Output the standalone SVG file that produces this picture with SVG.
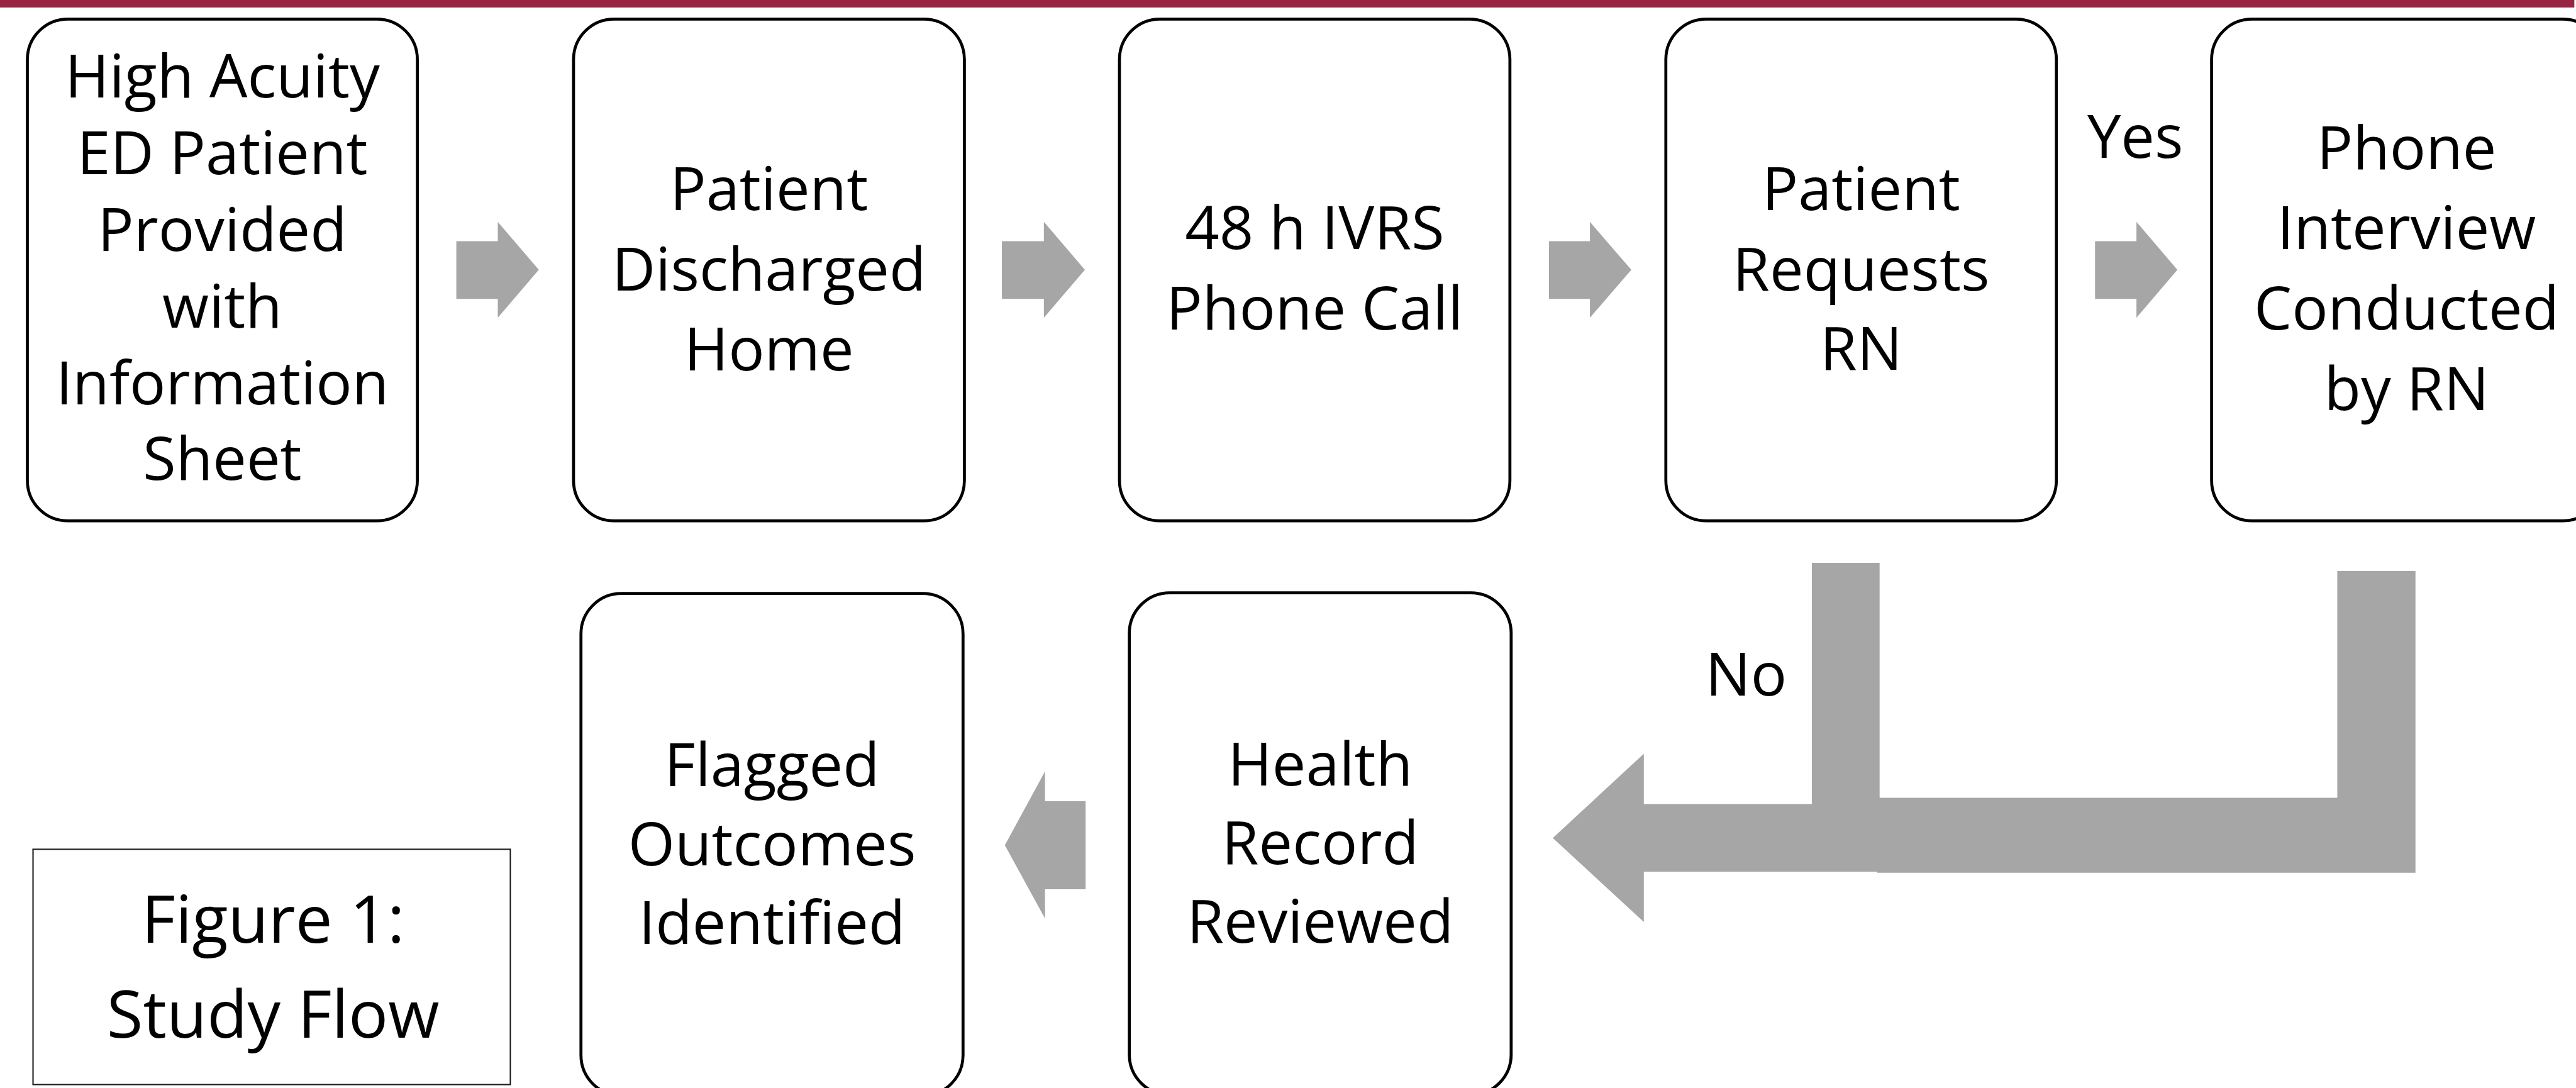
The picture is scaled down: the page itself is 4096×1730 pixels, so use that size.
<svg xmlns="http://www.w3.org/2000/svg" width="4096" height="1730" viewBox="0 0 4096 1730">
<style>
.node{fill:#ffffff;stroke:#000000;stroke-width:5}
.cap{fill:#ffffff;stroke:#1a1a1a;stroke-width:2.2}
.t{font-family:"Open Sans","Noto Sans","Liberation Sans",sans-serif;font-size:101px;fill:#000000;text-anchor:middle}
.tf{font-size:111px}
.arr{fill:#a6a6a6;stroke:none}
</style>
<rect x="0" y="0" width="4096" height="1730" fill="#ffffff"/>
<g transform="scale(0.946)">
<rect id="topbar" x="0" y="0" width="4327" height="12.6" fill="#982441"/>

<g id="connectors">
<polygon class="arr" points="767,405.3 836.7,405.3 836.7,373 905.6,453.5 836.7,534 836.7,502.3 767,502.3"/>
<polygon class="arr" points="1684,405.3 1754.6,405.3 1754.6,373 1823.5,453.5 1754.6,534 1754.6,502.3 1684,502.3"/>
<polygon class="arr" points="2603.6,405.3 2672.4,405.3 2672.4,373 2742,453.5 2672.4,534 2672.4,502.3 2603.6,502.3"/>
<polygon class="arr" points="3521.4,405.3 3591,405.3 3591,373 3659.8,453.5 3591,534 3591,502.3 3521.4,502.3"/>
<polygon class="arr" points="1824.7,1346.8 1756.5,1346.8 1756.5,1296.5 1689,1420.8 1756.5,1543.9 1756.5,1494.8 1824.7,1494.8"/>
<polygon class="arr" points="3928.6,959.8 4060,959.8 4060,1467 3155.4,1467 3155.4,1340.9 3928.6,1340.9"/>
<polygon class="arr" points="2610,1408.5 2763,1267 2763,1351.6 3045.4,1351.6 3045.4,946.2 3159.3,946.2 3159.3,1465.2 2763,1465.2 2763,1549.8"/>
<text class="t" x="3589" y="265">Yes</text>
<text class="t" x="2935" y="1169.3">No</text>
</g>

<g id="n1">
<rect class="node" x="46" y="32" width="655.5" height="843.5" rx="68" ry="68"/>
<text class="t" x="373.7" y="163.6">High Acuity</text>
<text class="t" x="373.7" y="292.8">ED Patient</text>
<text class="t" x="373.7" y="421.9">Provided</text>
<text class="t" x="373.7" y="551.1">with</text>
<text class="t" x="373.7" y="680.2">Information</text>
<text class="t" x="373.7" y="806.5">Sheet</text>
</g>

<g id="n2">
<rect class="node" x="964" y="32" width="657" height="843.5" rx="68" ry="68"/>
<text class="t" x="1292.5" y="353">Patient</text>
<text class="t" x="1292.5" y="488">Discharged</text>
<text class="t" x="1292.5" y="623">Home</text>
</g>

<g id="n3">
<rect class="node" x="1881.6" y="32" width="656.3" height="843.5" rx="68" ry="68"/>
<text class="t" x="2209.7" y="419">48 h IVRS</text>
<text class="t" x="2209.7" y="554">Phone Call</text>
</g>

<g id="n4">
<rect class="node" x="2800" y="32" width="656.4" height="843.5" rx="68" ry="68"/>
<text class="t" x="3128.2" y="353">Patient</text>
<text class="t" x="3128.2" y="488">Requests</text>
<text class="t" x="3128.2" y="622">RN</text>
</g>

<g id="n5">
<rect class="node" x="3717.3" y="32" width="658" height="843.5" rx="68" ry="68"/>
<text class="t" x="4045" y="284">Phone</text>
<text class="t" x="4045" y="419">Interview</text>
<text class="t" x="4045" y="554">Conducted</text>
<text class="t" x="4045" y="689">by RN</text>
</g>

<g id="n6">
<rect class="node" x="976.5" y="997.6" width="642.2" height="844" rx="68" ry="68"/>
<text class="t" x="1297.6" y="1321.4">Flagged</text>
<text class="t" x="1297.6" y="1454.5">Outcomes</text>
<text class="t" x="1297.6" y="1586.5">Identified</text>
</g>

<g id="n7">
<rect class="node" x="1898.2" y="996.5" width="641.8" height="844" rx="68" ry="68"/>
<text class="t" x="2219.1" y="1320.2">Health</text>
<text class="t" x="2219.1" y="1452">Record</text>
<text class="t" x="2219.1" y="1584.7">Reviewed</text>
</g>

<g id="caption">
<rect class="cap" x="55.5" y="1427.5" width="802.3" height="395.5"/>
<text class="t tf" x="459" y="1584.7">Figure 1:</text>
<text class="t tf" x="459" y="1744.5">Study Flow</text>
</g>
</g>
</svg>
